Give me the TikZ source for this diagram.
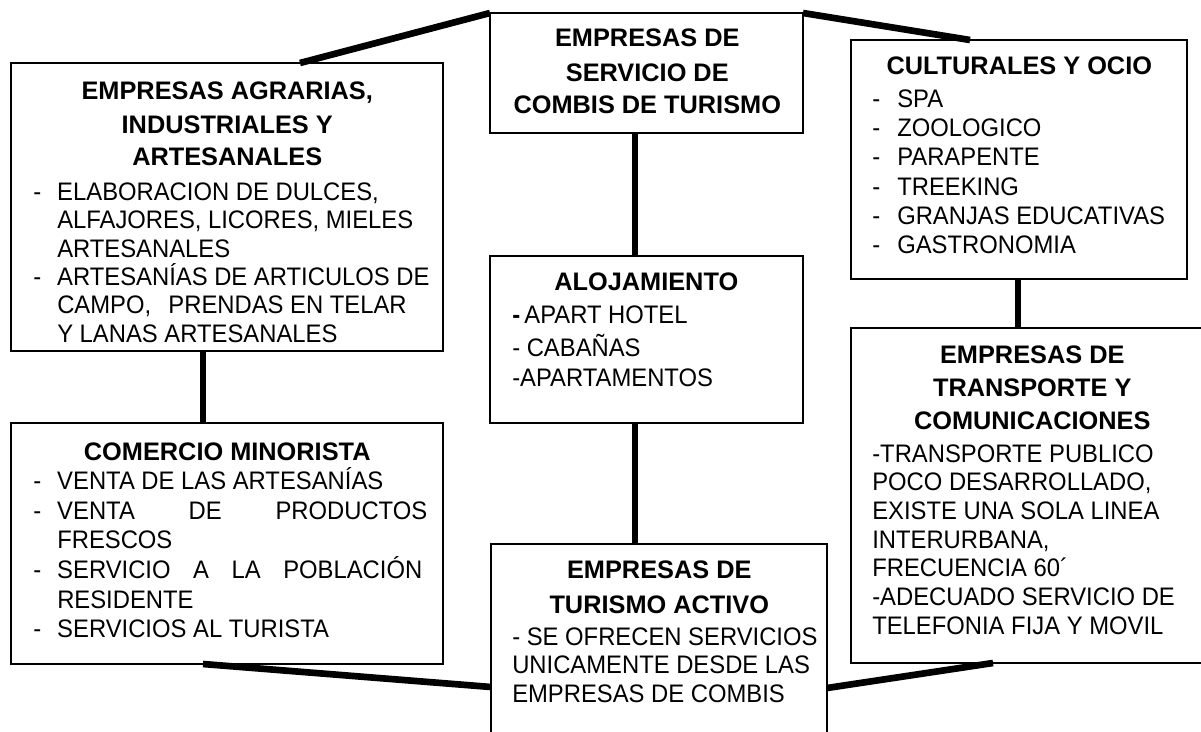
\documentclass[tikz,border=0pt]{standalone}
\usepackage{fontspec}
\setmainfont{Liberation Sans}
\newfontfamily\bodyfont[FakeStretch=0.94]{Liberation Sans}
\usetikzlibrary{calc}
\newlength{\pix}
\setlength{\pix}{0.75pt}
\newlength{\hdw}
\newcommand{\hd}[1]{\makebox[\hdw][c]{\fontsize{19pt}{24pt}\rmfamily\bfseries #1}}
\newcommand{\itm}[2][24]{\makebox[#1\pix][l]{-}#2}
\newcommand{\cnt}[1]{\hspace*{24\pix}#1}
\newcommand{\boxtext}[3]{\setlength{\hdw}{#1\pix}\parbox[t]{500\pix}{\bodyfont\fontsize{19pt}{21pt}\selectfont\setlength{\baselineskip}{#2\pix}#3}}
\tikzstyle{panel} = [draw, line width=1pt, fill=white, rectangle, anchor=north west,
inner sep=0pt, outer sep=0pt]
\tikzstyle{txt} = [anchor=base west, inner sep=0pt]
\tikzstyle{link} = [line width=5pt]

\begin{document}
\begin{tikzpicture}[x=0.75pt,y=-0.75pt]
  \useasboundingbox (0,0) rectangle (1201,731);
  \node [panel, minimum width=324pt, minimum height=216pt] (agr) at (11,63) {};
  \node [panel, minimum width=324pt, minimum height=180.75pt] (com) at (11,423) {};
  \node [panel, minimum width=234.75pt, minimum height=90pt] (combis) at (490,13) {};
  \node [panel, minimum width=234.75pt, minimum height=125.25pt] (aloj) at (490,256) {};
  \node [panel, minimum width=252pt, minimum height=179.25pt] (cult) at (851,40) {};
  \node [panel, minimum width=271.5pt, minimum height=251.25pt] (trans) at (851,328) {};
  \node [panel, minimum width=252pt, minimum height=150pt] (act) at (491,544) {};

  \node [txt] (agrtxt) at (33,100) {\boxtext{388}{28.4}{%
    \hd{EMPRESAS AGRARIAS,}\\[5\pix]
    \hd{INDUSTRIALES Y}\\[4\pix]
    \hd{ARTESANALES}\\[6\pix]
    \itm{ELABORACION DE DULCES,}\\
    \cnt{ALFAJORES, LICORES, MIELES}\\
    \cnt{ARTESANALES}\\
    \itm{ARTESANÍAS DE ARTICULOS DE}\\
    \cnt{CAMPO,\hspace{8pt} PRENDAS EN TELAR}\\
    \cnt{Y LANAS ARTESANALES}}};
  \node [txt] (comtxt) at (33,460) {\boxtext{388}{29.6}{%
    \hd{COMERCIO MINORISTA}\\
    \itm{VENTA DE LAS ARTESANÍAS}\\
    \itm{\makebox[370\pix][s]{VENTA DE PRODUCTOS}}\\
    \cnt{FRESCOS}\\
    \itm{\makebox[365\pix][s]{SERVICIO A LA POBLACIÓN}}\\
    \cnt{RESIDENTE}\\
    \itm{SERVICIOS AL TURISTA}}};
  \node [txt] (combistxt) at (510,47) {\boxtext{274}{28.5}{%
    \hd{EMPRESAS DE}\\[6.5\pix]
    \hd{SERVICIO DE}\\[3\pix]
    \hd{COMBIS DE TURISMO}}};
  \node [txt] (alojtxt) at (512,290) {\boxtext{268}{29.5}{%
    \hd{ALOJAMIENTO}\\[3.5\pix]
    \textbf{-}\,APART HOTEL\\[4\pix]
    - CABAÑAS\\
    -APARTAMENTOS}};
  \node [txt] (culttxt) at (872,75) {\boxtext{294}{29.3}{%
    \hd{CULTURALES Y OCIO}\\[3\pix]
    \itm[25]{SPA}\\
    \itm[25]{ZOOLOGICO}\\
    \itm[25]{PARAPENTE}\\
    \itm[25]{TREEKING}\\
    \itm[25]{GRANJAS EDUCATIVAS}\\
    \itm[25]{GASTRONOMIA}}};
  \node [txt] (transtxt) at (872,363) {\boxtext{320}{28.7}{%
    \hd{EMPRESAS DE}\\[5\pix]
    \hd{TRANSPORTE Y}\\[4\pix]
    \hd{COMUNICACIONES}\\[4\pix]
    -TRANSPORTE PUBLICO\\
    POCO DESARROLLADO,\\
    EXISTE UNA SOLA LINEA\\
    INTERURBANA,\\
    FRECUENCIA 60´\\
    -ADECUADO SERVICIO DE\\
    TELEFONIA FIJA Y MOVIL}};
  \node [txt] (acttxt) at (512,578) {\boxtext{294}{28.5}{%
    \hd{EMPRESAS DE}\\[6.5\pix]
    \hd{TURISMO ACTIVO}\\[3.5\pix]
    - SE OFRECEN SERVICIOS\\
    UNICAMENTE DESDE LAS\\
    EMPRESAS DE COMBIS}};

  \draw [link] (combis.north west) -- ($(agr.north west)+(289,0)$);
  \draw [link] (combis.north east) -- ($(cult.north west)+(119,0)$);
  \draw [link] ($(combis.south west)+(145,0)$) -- ($(aloj.north west)+(145,0)$);
  \draw [link] ($(aloj.south west)+(145,0)$) -- ($(act.north west)+(144,0)$);
  \draw [link] ($(agr.south west)+(192,0)$) -- ($(com.north west)+(192,0)$);
  \draw [link] ($(cult.south west)+(167,0)$) -- ($(trans.north west)+(167,0)$);
  \draw [link] ($(com.south west)+(192,0)$) -- ($(act.north west)+(0,143)$);
  \draw [link] ($(act.north east)+(0,144)$) -- ($(trans.south west)+(142,0)$);
\end{tikzpicture}
\end{document}
